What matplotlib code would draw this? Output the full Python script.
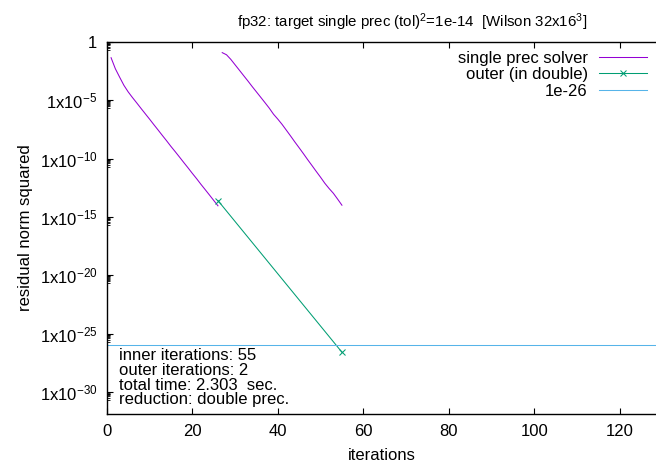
import numpy as np
import matplotlib
matplotlib.use("Agg")
import matplotlib.pyplot as plt
from matplotlib.lines import Line2D

plt.rcParams['font.family'] = ['Liberation Sans', 'DejaVu Sans']
plt.rcParams['mathtext.fontset'] = 'custom'
plt.rcParams['mathtext.rm'] = 'Liberation Sans'
plt.rcParams['mathtext.it'] = 'Liberation Sans:italic'
plt.rcParams['mathtext.bf'] = 'Liberation Sans:bold'

# ---- data ----
inner_iter_1 = list(range(1, 27))
inner_res_1 = [4.4e-2, 5.0e-3, 9.5e-4, 1.9e-4, 5.2e-5, 1.7e-5, 5.9e-6, 2.0e-6,
               6.9e-7, 2.4e-7, 8.1e-8, 2.8e-8, 9.5e-9, 3.3e-9, 1.1e-9, 3.9e-10,
               1.35e-10, 4.6e-11, 1.6e-11, 5.4e-12, 1.9e-12, 6.3e-13, 2.2e-13,
               7.6e-14, 2.6e-14, 8.9e-15]
inner_iter_2 = list(range(27, 56))
inner_res_2 = [0.12, 7.9e-2, 3.2e-2, 1.1e-2, 3.8e-3, 1.3e-3, 4.5e-4, 1.5e-4,
               5.2e-5, 1.8e-5, 6.2e-6, 2.1e-6, 6.3e-7, 2.4e-7, 8.5e-8, 2.7e-8,
               8.5e-9, 2.6e-9, 8.3e-10, 2.6e-10, 7.9e-11, 2.5e-11, 7.8e-12,
               2.5e-12, 7.6e-13, 2.7e-13, 1.05e-13, 3.3e-14, 1.0e-14]
outer_iter = [26, 55]
outer_res = [2.5e-14, 2.5e-27]
target_level = 1e-26

ytick_exps = [0, -5, -10, -15, -20, -25, -30]
xticks = [0, 20, 40, 60, 80, 100, 120]

title = r'fp32: target single prec (tol)$^2$=1e-14  [Wilson 32x16$^3$]'
info_lines = ['inner iterations: 55', 'outer iterations: 2',
              'total time: 2.303  sec.', 'reduction: double prec.']

c_single = '#9400d3'
c_outer = '#009e73'
c_target = '#56b4e9'
LW = 0.75

W, H = 656, 467
fig = plt.figure(figsize=(W / 100, H / 100), dpi=100)
left_px, right_px, top_px, bot_px = 106.8, 656, 41.9, 414
ax = fig.add_axes([left_px / W, 1 - bot_px / H, (right_px - left_px) / W,
                   (bot_px - top_px) / H])

ax.set_yscale('log')
ax.plot(inner_iter_1, inner_res_1, color=c_single, lw=LW)
ax.plot(inner_iter_2, inner_res_2, color=c_single, lw=LW)
ax.plot(outer_iter, outer_res, color=c_outer, lw=LW, marker='x', ms=5, mew=LW)
ax.axhline(target_level, color=c_target, lw=LW)

ax.set_xlim(0, (right_px - left_px) / 4.275)
ax.set_ylim(10 ** -31.9, 1)

ax.set_xticks(xticks)
ax.set_xticklabels([str(v) for v in xticks], fontsize=12)
ax.set_yticks([10.0 ** e for e in ytick_exps])
ax.set_yticklabels(['1' if e == 0 else r'1x10$^{%d}$' % e for e in ytick_exps], fontsize=12)
minors = []
for e in ytick_exps:
    for m in range(2, 10):
        minors.append(m * 10.0 ** (e - 1))
ax.set_yticks(minors, minor=True)
ax.yaxis.set_minor_formatter(matplotlib.ticker.NullFormatter())

ax.tick_params(axis='x', direction='in', top=True, bottom=True, length=4.5, width=0.8, pad=7)
ax.tick_params(axis='y', which='major', direction='in', left=True, right=False, length=4.5, width=0.8, pad=7)
ax.tick_params(axis='y', which='minor', direction='in', left=True, right=False, length=2.5, width=0.6)
ax.tick_params(axis='x', which='minor', bottom=False, top=False)
ax.spines['right'].set_visible(False)
for s in ['left', 'bottom', 'top']:
    ax.spines[s].set_linewidth(1.0)

ax.set_xlabel('iterations', fontsize=12, labelpad=7)
ax.set_ylabel('residual norm squared', fontsize=12, labelpad=5)

fig.text(412 / W, 1 - 22 / H, title, ha='center', va='center', fontsize=10.8)

handles = [Line2D([], [], color=c_single, lw=LW),
           Line2D([], [], color=c_outer, lw=LW, marker='x', ms=5, mew=LW),
           Line2D([], [], color=c_target, lw=LW)]
labels = ['single prec solver', 'outer (in double)', '1e-26']
fig.legend(handles, labels, loc='upper right', bbox_to_anchor=(647 / W, 1 - 51 / H),
           frameon=False, markerfirst=False, fontsize=12, handlelength=2.9,
           handletextpad=0.65, labelspacing=0.08, borderpad=0, borderaxespad=0)

fig.text(119 / W, 1 - 348 / H, '\n'.join(info_lines), ha='left', va='top',
         fontsize=12, linespacing=0.98)

fig.savefig('out.png', dpi=100)
